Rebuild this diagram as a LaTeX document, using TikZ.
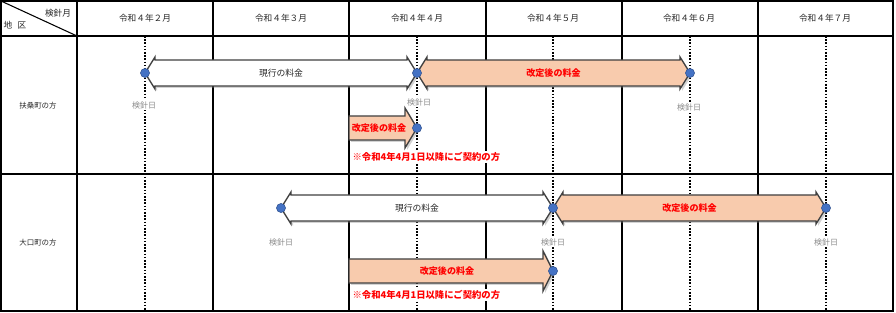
\documentclass[tikz,border=0pt]{standalone}
\usepackage{fontspec}
\setmainfont{Noto Sans CJK JP}
\usepackage{tikz}
\usetikzlibrary{calc, shadows}
\definecolor{feeorange}{HTML}{F8CBAD}
\definecolor{dotblue}{HTML}{4472C4}
\definecolor{dotedge}{HTML}{2F528F}
\definecolor{edgegray}{HTML}{404040}
\definecolor{daygray}{HTML}{8C8C8C}

% double arrow between two reading days
\newcommand{\feespan}[3]{%
  \draw[#1] (#2) -- ++(10,-16) -- ++(0,3) -- ($(#3)+(-10,-13)$) -- ++(0,-3) -- (#3)
    -- ++(-10,16) -- ++(0,-3) -- ($(#2)+(10,13)$) -- ++(0,3) -- cycle;}
% single arrow from a start point to a reading day
\newcommand{\feestart}[4]{%
  \draw[#1] ($(#2)+(0,-12)$) -- ($(#3)+(-#4,-12)$) -- ++(0,-8) -- (#3)
    -- ++(-#4,20) -- ++(0,-8) -- ($(#2)+(0,12)$) -- cycle;}

\begin{document}
\begin{tikzpicture}[
    x=0.75pt, y=-0.75pt,
    grid_line/.style={draw=black, line width=0.8pt},
    day_line/.style={draw=black, line width=0.8pt, dash pattern=on 1.2pt off 1.2pt},
    fee_old/.style={fill=white, draw=edgegray, line width=1pt, line join=miter,
        drop shadow={shadow xshift=1.5pt, shadow yshift=-1.5pt, opacity=0.35}},
    fee_new/.style={fee_old, fill=feeorange},
    dot/.style={circle, fill=dotblue, draw=dotedge, line width=0.4pt, minimum size=6.8pt, inner sep=0pt},
    month/.style={font=\fontsize{6.5}{7}\selectfont, text=black!85},
    area/.style={font=\fontsize{5.6}{7}\selectfont, text=black!85},
    old_text/.style={font=\fontsize{6.6}{7}\selectfont, text=black!85},
    new_text/.style={font=\bfseries\fontsize{6.8}{7}\selectfont, text=red},
    note/.style={font=\bfseries\fontsize{7}{8}\selectfont, text=red, anchor=west, fill=white, inner sep=1pt},
    day/.style={font=\fontsize{6}{7}\selectfont, text=daygray, fill=white, inner sep=1pt}
]
\useasboundingbox (0,0) rectangle (896,313);

% table
\draw[grid_line] (1,1) rectangle (893,311);
\draw[grid_line] (1,36) -- (893,36);
\draw[grid_line] (1,174) -- (893,174);
\draw[grid_line] (1,1) -- (77,36);
\foreach \x in {77,213,349,486,622,758}
  \draw[grid_line] (\x,1) -- (\x,311);
\foreach \x in {145,417,553,690,826}
  \draw[day_line] (\x,36) -- (\x,311);

\node[month] (head_month) at (58,13) {検針月};
\node[month] (head_area) at (15,25) {地\hspace{0.6em}区};
\foreach \m [count=\i] in {２,３,４,５,６,７}
  \node[month] (m\i) at ({77+136*(\i-0.5)},18) {令和４年\m 月};
\node[area] (area1) at (38,106) {扶桑町の方};
\node[area] (area2) at (38,243) {大口町の方};

% reading days
\coordinate (a1) at (145,73);
\coordinate (a2) at (417,73);
\coordinate (a3) at (690,73);
\coordinate (a4) at (417,128);
\coordinate (s1) at (349,128);
\coordinate (b1) at (281,208);
\coordinate (b2) at (553,208);
\coordinate (b3) at (826,208);
\coordinate (b4) at (553,271);
\coordinate (s2) at (349,271);

\feespan{fee_old}{a1}{a2}
\feespan{fee_new}{a2}{a3}
\feestart{fee_new}{s1}{a4}{12}
\feespan{fee_old}{b1}{b2}
\feespan{fee_new}{b2}{b3}
\feestart{fee_new}{s2}{b4}{10}

\foreach \p in {a1,a2,a3,a4,b1,b2,b3,b4}
  \node[dot] (dot_\p) at (\p) {};

\node[old_text] (old1) at ($(a1)!0.5!(a2)$) {現行の料金};
\node[new_text] (new1) at ($(a2)!0.5!(a3)$) {改定後の料金};
\node[new_text] (new2) at ($(s1)!0.5!(a4)+(-4,0)$) {改定後の料金};
\node[old_text] (old2) at ($(b1)!0.5!(b2)$) {現行の料金};
\node[new_text] (new3) at ($(b2)!0.5!(b3)$) {改定後の料金};
\node[new_text] (new4) at ($(s2)!0.5!(b4)+(-4,0)$) {改定後の料金};

\node[note] (note1) at (351,157) {※令和4年4月1日以降にご契約の方};
\node[note] (note2) at (351,295) {※令和4年4月1日以降にご契約の方};

\node[day] (day_a1) at (144,105) {検針日};
\node[day] (day_a2) at (419,102) {検針日};
\node[day] (day_a3) at (689,107) {検針日};
\node[day] (day_b1) at (281,242) {検針日};
\node[day] (day_b2) at (553,242) {検針日};
\node[day] (day_b3) at (826,242) {検針日};
\end{tikzpicture}
\end{document}
